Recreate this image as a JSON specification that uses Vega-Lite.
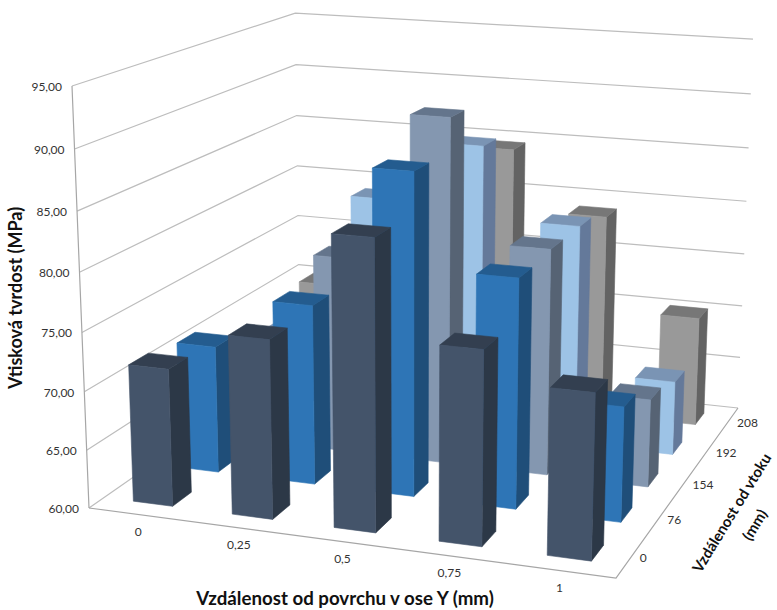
{
  "$schema": "https://vega.github.io/schema/vega-lite/v6.json",
  "width": 777,
  "height": 610,
  "padding": 0,
  "autosize": "none",
  "background": "white",
  "config": {"view": {"stroke": null}, "font": "Lato"},
  "datasets": {
    "mereni": [
      {"vzdalenost": "0", "vtok": "208", "tvrdost": 70.0},
      {"vzdalenost": "0,25", "vtok": "208", "tvrdost": 80.0},
      {"vzdalenost": "0,5", "vtok": "208", "tvrdost": 84.5},
      {"vzdalenost": "0,75", "vtok": "208", "tvrdost": 78.9},
      {"vzdalenost": "1", "vtok": "208", "tvrdost": 70.15},
      {"vzdalenost": "0", "vtok": "192", "tvrdost": 67.5},
      {"vzdalenost": "0,25", "vtok": "192", "tvrdost": 81.0},
      {"vzdalenost": "0,5", "vtok": "192", "tvrdost": 86.5},
      {"vzdalenost": "0,75", "vtok": "192", "tvrdost": 80.0},
      {"vzdalenost": "1", "vtok": "192", "tvrdost": 66.7},
      {"vzdalenost": "0", "vtok": "154", "tvrdost": 68.5},
      {"vzdalenost": "0,25", "vtok": "154", "tvrdost": 77.6},
      {"vzdalenost": "0,5", "vtok": "154", "tvrdost": 90.6},
      {"vzdalenost": "0,75", "vtok": "154", "tvrdost": 80.0},
      {"vzdalenost": "1", "vtok": "154", "tvrdost": 67.75},
      {"vzdalenost": "0", "vtok": "76", "tvrdost": 71.2},
      {"vzdalenost": "0,25", "vtok": "76", "tvrdost": 75.7},
      {"vzdalenost": "0,5", "vtok": "76", "tvrdost": 87.75},
      {"vzdalenost": "0,75", "vtok": "76", "tvrdost": 79.7},
      {"vzdalenost": "1", "vtok": "76", "tvrdost": 69.85},
      {"vzdalenost": "0", "vtok": "0", "tvrdost": 71.8},
      {"vzdalenost": "0,25", "vtok": "0", "tvrdost": 75.2},
      {"vzdalenost": "0,5", "vtok": "0", "tvrdost": 84.3},
      {"vzdalenost": "0,75", "vtok": "0", "tvrdost": 76.2},
      {"vzdalenost": "1", "vtok": "0", "tvrdost": 73.7}
    ],
    "svisla": [
      {"tvrdost": 60, "popisek": "60,00"},
      {"tvrdost": 65, "popisek": "65,00"},
      {"tvrdost": 70, "popisek": "70,00"},
      {"tvrdost": 75, "popisek": "75,00"},
      {"tvrdost": 80, "popisek": "80,00"},
      {"tvrdost": 85, "popisek": "85,00"},
      {"tvrdost": 90, "popisek": "90,00"},
      {"tvrdost": 95, "popisek": "95,00"}
    ],
    "kategorie": [
      {"popisek": "0", "poradi": 0},
      {"popisek": "0,25", "poradi": 1},
      {"popisek": "0,5", "poradi": 2},
      {"popisek": "0,75", "poradi": 3},
      {"popisek": "1", "poradi": 4}
    ],
    "hloubka": [
      {"popisek": "0", "poradi": 0},
      {"popisek": "76", "poradi": 1},
      {"popisek": "154", "poradi": 2},
      {"popisek": "192", "poradi": 3},
      {"popisek": "208", "poradi": 4}
    ]
  },
  "layer": [
    {
      "data": {"name": "svisla"},
      "transform": [
        {"calculate": "[{p:0,u:0,v:0},{p:1,u:0,v:1},{p:2,u:1,v:1}]", "as": "body"},
        {"flatten": ["body"], "as": ["bod"]},
        {"calculate": "(datum.tvrdost-60)/35", "as": "h"},
        {"calculate": "1-0.07346*datum.bod.u+0.22366*datum.bod.v-0.0503*datum.h", "as": "w"},
        {"calculate": "(89+481.75*datum.bod.u+278.1*datum.bod.v-20.62*datum.h)/datum.w", "as": "sx"},
        {"calculate": "(508+27.54*datum.bod.u-66.26*datum.bod.v-426.3*datum.h)/datum.w", "as": "sy"},
        {"calculate": "datum.bod.p", "as": "p"}
      ],
      "mark": {"type": "line", "stroke": "#bdbdbd", "strokeWidth": 1.2},
      "encoding": {
        "x": {"field": "sx", "type": "quantitative", "scale": {"domain": [0, 777], "range": [0, 777], "nice": false, "zero": false}, "axis": null},
        "y": {"field": "sy", "type": "quantitative", "scale": {"domain": [0, 610], "range": [0, 610], "nice": false, "zero": false}, "axis": null},
        "detail": {"field": "tvrdost"},
        "order": {"field": "p", "type": "quantitative"}
      }
    },
    {
      "data": {"name": "svisla"},
      "transform": [
        {"calculate": "(datum.tvrdost-60)/35", "as": "h"},
        {"calculate": "1-0.0503*datum.h", "as": "w"},
        {"calculate": "(89-20.62*datum.h)/datum.w", "as": "sx"},
        {"calculate": "(508-426.3*datum.h)/datum.w", "as": "sy"}
      ],
      "mark": {"type": "line", "stroke": "#a6a6a6", "strokeWidth": 1.2},
      "encoding": {
        "x": {"field": "sx", "type": "quantitative", "axis": null},
        "y": {"field": "sy", "type": "quantitative", "axis": null},
        "order": {"field": "tvrdost", "type": "quantitative"}
      }
    },
    {
      "data": {"name": "svisla"},
      "transform": [
        {"filter": "datum.tvrdost == 60"},
        {"calculate": "[{p:0,u:0,v:0},{p:1,u:1,v:0},{p:2,u:1,v:1}]", "as": "body"},
        {"flatten": ["body"], "as": ["bod"]},
        {"calculate": "1-0.07346*datum.bod.u+0.22366*datum.bod.v", "as": "w"},
        {"calculate": "(89+481.75*datum.bod.u+278.1*datum.bod.v)/datum.w", "as": "sx"},
        {"calculate": "(508+27.54*datum.bod.u-66.26*datum.bod.v)/datum.w", "as": "sy"},
        {"calculate": "datum.bod.p", "as": "p"}
      ],
      "mark": {"type": "line", "stroke": "#a6a6a6", "strokeWidth": 1.2},
      "encoding": {
        "x": {"field": "sx", "type": "quantitative", "axis": null},
        "y": {"field": "sy", "type": "quantitative", "axis": null},
        "order": {"field": "p", "type": "quantitative"}
      }
    },
    {
      "data": {"name": "mereni"},
      "transform": [
        {"calculate": "indexof(['0','0,25','0,5','0,75','1'], datum.vzdalenost)", "as": "i"},
        {"calculate": "indexof(['0','76','154','192','208'], datum.vtok)", "as": "j"},
        {"calculate": "(datum.tvrdost-60)/35", "as": "h"},
        {"calculate": "[{s:'bok',n:0,a:1,b:0,c:0},{s:'bok',n:1,a:1,b:1,c:0},{s:'bok',n:2,a:1,b:1,c:1},{s:'bok',n:3,a:1,b:0,c:1},{s:'vrch',n:0,a:0,b:0,c:1},{s:'vrch',n:1,a:1,b:0,c:1},{s:'vrch',n:2,a:1,b:1,c:1},{s:'vrch',n:3,a:0,b:1,c:1},{s:'celo',n:0,a:0,b:0,c:0},{s:'celo',n:1,a:1,b:0,c:0},{s:'celo',n:2,a:1,b:0,c:1},{s:'celo',n:3,a:0,b:0,c:1}]", "as": "rohy"},
        {"flatten": ["rohy"], "as": ["roh"]},
        {"calculate": "0.06+0.2*datum.i+0.08*datum.roh.a", "as": "u"},
        {"calculate": "0.06+0.2*datum.j+0.08*datum.roh.b", "as": "v"},
        {"calculate": "datum.h*datum.roh.c", "as": "z"},
        {"calculate": "1-0.07346*datum.u+0.22366*datum.v-0.0503*datum.z", "as": "w"},
        {"calculate": "(89+481.75*datum.u+278.1*datum.v-20.62*datum.z)/datum.w", "as": "sx"},
        {"calculate": "(508+27.54*datum.u-66.26*datum.v-426.3*datum.z)/datum.w", "as": "sy"},
        {"calculate": "datum.vtok+' '+datum.roh.s", "as": "plocha"},
        {"calculate": "datum.vzdalenost+' '+datum.plocha", "as": "stena"},
        {"calculate": "datum.roh.n", "as": "n"}
      ],
      "mark": {"type": "line", "strokeWidth": 0.6, "interpolate": "linear-closed"},
      "encoding": {
        "x": {"field": "sx", "type": "quantitative", "axis": null},
        "y": {"field": "sy", "type": "quantitative", "axis": null},
        "detail": {"field": "stena"},
        "order": {"field": "n", "type": "quantitative"},
        "fill": {"field": "plocha", "type": "nominal", "legend": null,
          "scale": {
            "domain": ["0 celo", "0 bok", "0 vrch", "76 celo", "76 bok", "76 vrch", "154 celo", "154 bok", "154 vrch", "192 celo", "192 bok", "192 vrch", "208 celo", "208 bok", "208 vrch"],
            "range": ["#44546a", "#2c3847", "#333f50", "#2e75b6", "#1f4e79", "#245c8f", "#8497b0", "#566374", "#64758c", "#9dc3e6", "#64799a", "#7a94b4", "#999999", "#636363", "#777777"]
          }},
        "stroke": {"field": "plocha", "type": "nominal", "legend": null,
          "scale": {
            "domain": ["0 celo", "0 bok", "0 vrch", "76 celo", "76 bok", "76 vrch", "154 celo", "154 bok", "154 vrch", "192 celo", "192 bok", "192 vrch", "208 celo", "208 bok", "208 vrch"],
            "range": ["#44546a", "#2c3847", "#333f50", "#2e75b6", "#1f4e79", "#245c8f", "#8497b0", "#566374", "#64758c", "#9dc3e6", "#64799a", "#7a94b4", "#999999", "#636363", "#777777"]
          }}
      }
    },
    {
      "data": {"name": "svisla"},
      "transform": [
        {"calculate": "(datum.tvrdost-60)/35", "as": "h"},
        {"calculate": "1-0.0503*datum.h", "as": "w"},
        {"calculate": "(89-20.62*datum.h)/datum.w", "as": "sx"},
        {"calculate": "(508-426.3*datum.h)/datum.w", "as": "sy"}
      ],
      "mark": {"type": "text", "align": "right", "baseline": "middle", "dx": -10, "dy": 1, "fontSize": 12, "color": "#333333"},
      "encoding": {
        "x": {"field": "sx", "type": "quantitative", "axis": null},
        "y": {"field": "sy", "type": "quantitative", "axis": null},
        "text": {"field": "popisek"}
      }
    },
    {
      "data": {"name": "kategorie"},
      "transform": [
        {"calculate": "0.1+0.2*datum.poradi", "as": "u"},
        {"calculate": "1-0.07346*datum.u", "as": "w"},
        {"calculate": "(89+481.75*datum.u)/datum.w", "as": "sx"},
        {"calculate": "(508+27.54*datum.u)/datum.w", "as": "sy"}
      ],
      "mark": {"type": "text", "align": "center", "baseline": "middle", "dy": 17, "fontSize": 12, "color": "#333333"},
      "encoding": {
        "x": {"field": "sx", "type": "quantitative", "axis": null},
        "y": {"field": "sy", "type": "quantitative", "axis": null},
        "text": {"field": "popisek"}
      }
    },
    {
      "data": {"name": "hloubka"},
      "transform": [
        {"calculate": "0.1+0.2*datum.poradi", "as": "v"},
        {"calculate": "1-0.07346+0.22366*datum.v", "as": "w"},
        {"calculate": "(570.75+278.1*datum.v)/datum.w", "as": "sx"},
        {"calculate": "(535.54-66.26*datum.v)/datum.w", "as": "sy"}
      ],
      "mark": {"type": "text", "align": "left", "baseline": "middle", "dx": 9, "dy": 1, "fontSize": 12, "color": "#333333"},
      "encoding": {
        "x": {"field": "sx", "type": "quantitative", "axis": null},
        "y": {"field": "sy", "type": "quantitative", "axis": null},
        "text": {"field": "popisek"}
      }
    },
    {
      "data": {"values": [{"nazev": "Vzdálenost od povrchu v ose Y (mm)"}]},
      "mark": {"type": "text", "x": 345, "y": 599, "align": "center", "baseline": "middle", "fontSize": 18.7, "fontWeight": "bold", "color": "#111111"},
      "encoding": {"text": {"field": "nazev"}}
    },
    {
      "data": {"values": [{"nazev": "Vtisková tvrdost (MPa)"}]},
      "mark": {"type": "text", "x": 17, "y": 298, "angle": -90, "align": "center", "baseline": "middle", "fontSize": 18, "fontWeight": "bold", "color": "#111111"},
      "encoding": {"text": {"field": "nazev"}}
    },
    {
      "data": {"values": [{"nazev": "Vzdálenost od vtoku"}]},
      "mark": {"type": "text", "x": 732, "y": 513, "angle": -58.5, "align": "center", "baseline": "middle", "fontSize": 15, "fontWeight": "bold", "color": "#111111"},
      "encoding": {"text": {"field": "nazev"}}
    },
    {
      "data": {"values": [{"nazev": "(mm)"}]},
      "mark": {"type": "text", "x": 755, "y": 525, "angle": -58.5, "align": "center", "baseline": "middle", "fontSize": 15, "fontWeight": "bold", "color": "#111111"},
      "encoding": {"text": {"field": "nazev"}}
    }
  ]
}
